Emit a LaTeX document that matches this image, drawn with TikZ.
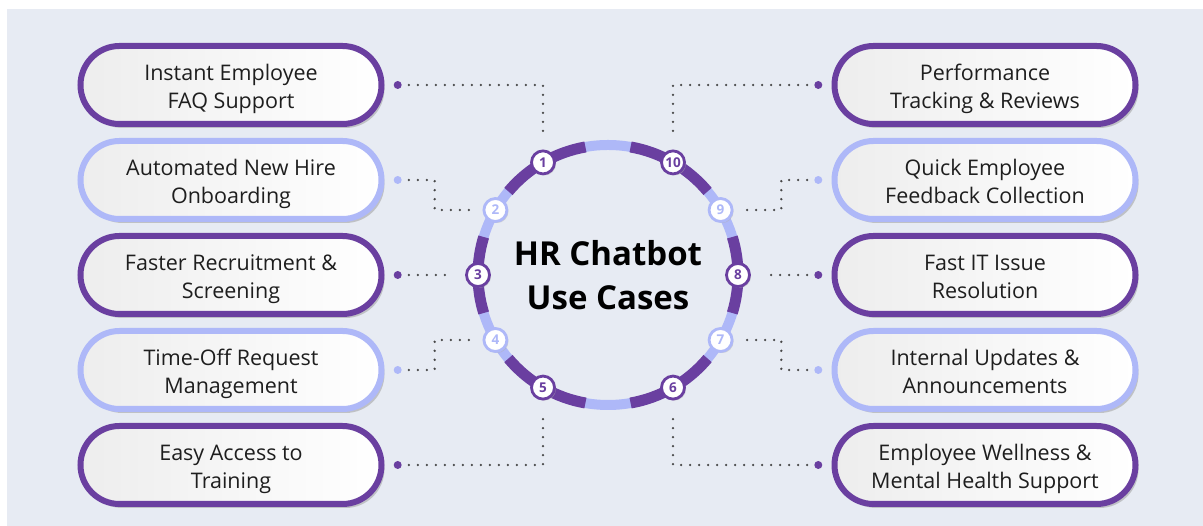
\documentclass[tikz,border=0pt]{standalone}
\usepackage{fontspec}
\setmainfont{Open Sans}
\usetikzlibrary{positioning,shadows,calc}
\definecolor{hrpurple}{HTML}{6A3FA0}
\definecolor{hrlav}{HTML}{AEB8F8}
\definecolor{hrbg}{HTML}{E7EBF3}
\definecolor{hrtext}{HTML}{1E1E1E}
\definecolor{hrdot}{HTML}{454545}
\begin{document}
\begin{tikzpicture}[x=1pt, y=1pt,
    pill/.style={draw=#1, line width=6pt, rounded corners=39pt,
      minimum width=301pt, minimum height=78pt, left color=gray!14, right color=white,
      text=hrtext, align=center, font=\fontsize{21.5}{28}\selectfont,
      text height=54pt, text depth=6pt, inner ysep=0pt,
      drop shadow={shadow xshift=3pt, shadow yshift=-4pt, fill=black!40, opacity=.5}},
    badge/.style={circle, draw=#1, line width=2.8pt, fill=white, minimum size=23pt,
      inner sep=0pt, text=#1, font=\bfseries\fontsize{13.5}{13.5}\selectfont,
      drop shadow={shadow xshift=1.5pt, shadow yshift=-1.5pt, fill=black!30, opacity=.5}},
    tip/.style={circle, fill=#1, minimum size=8pt, inner sep=0pt},
    link/.style={hrdot, line width=2.6pt, line cap=round, dash pattern=on 0pt off 9pt}]
  \useasboundingbox (0,0) rectangle (1203,526);
  \fill[hrbg] (7,0) rectangle (1203,517);

  % ring
  \coordinate (c) at (608,251);
  \draw[hrlav, line width=10pt] (c) circle (130);
  \foreach \a/\b in {100/140, 163/197, 220/260, 280/320, 343/377, 40/80}
    \draw[hrpurple, line width=11pt] ([shift=(\a:130)]c) arc (\a:\b:130);
  \node[font=\bfseries\fontsize{33}{44}\selectfont, align=center] (title) at (c) {HR Chatbot\\Use Cases};

  % badges
  \foreach \n/\a/\col in {1/120/hrpurple, 2/150/hrlav, 3/180/hrpurple, 4/210/hrlav, 5/240/hrpurple,
                         6/300/hrpurple, 7/330/hrlav, 8/0/hrpurple, 9/30/hrlav, 10/60/hrpurple}
    \node[badge=\col] (b\n) at ([shift=(\a:130)]c) {\n};

  % left column
  \node[pill=hrpurple] (p1) at (231,441) {Instant Employee\\FAQ Support};
  \node[pill=hrlav, below=11pt of p1] (p2) {Automated New Hire\\Onboarding};
  \node[pill=hrpurple, below=11pt of p2] (p3) {Faster Recruitment \&\\Screening};
  \node[pill=hrlav, below=11pt of p3] (p4) {Time-Off Request\\Management};
  \node[pill=hrpurple, below=11pt of p4] (p5) {Easy Access to\\Training};

  % right column
  \node[pill=hrpurple] (q1) at (985,441) {Performance\\Tracking \& Reviews};
  \node[pill=hrlav, below=11pt of q1] (q2) {Quick Employee\\Feedback Collection};
  \node[pill=hrpurple, below=11pt of q2] (q3) {Fast IT Issue\\Resolution};
  \node[pill=hrlav, below=11pt of q3] (q4) {Internal Updates \&\\Announcements};
  \node[pill=hrpurple, below=11pt of q4] (q5) {Employee Wellness \&\\Mental Health Support};

  % end dots
  \node[tip=hrpurple, right=9pt of p1] (t1) {};
  \node[tip=hrlav, right=9pt of p2] (t2) {};
  \node[tip=hrpurple, right=9pt of p3] (t3) {};
  \node[tip=hrlav, right=9pt of p4] (t4) {};
  \node[tip=hrpurple, right=9pt of p5] (t5) {};
  \node[tip=hrpurple, left=9pt of q1] (s1) {};
  \node[tip=hrlav, left=9pt of q2] (s2) {};
  \node[tip=hrpurple, left=9pt of q3] (s3) {};
  \node[tip=hrlav, left=9pt of q4] (s4) {};
  \node[tip=hrpurple, left=9pt of q5] (s5) {};

  % dotted links
  \draw[link, shorten <=7pt, shorten >=13pt] (t1) -| (b1);
  \draw[link, shorten <=7pt, shorten >=6pt] (t2) -- ++(37,0) |- (b2);
  \draw[link, shorten <=7pt, shorten >=12pt] (t3) -- (b3);
  \draw[link, shorten <=7pt, shorten >=6pt] (t4) -- ++(37,0) |- (b4);
  \draw[link, shorten <=7pt, shorten >=13pt] (t5) -| (b5);
  \draw[link, shorten <=7pt, shorten >=13pt] (s1) -| (b10);
  \draw[link, shorten <=7pt, shorten >=6pt] (s2) -- ++(-37,0) |- (b9);
  \draw[link, shorten <=7pt, shorten >=12pt] (s3) -- (b8);
  \draw[link, shorten <=7pt, shorten >=6pt] (s4) -- ++(-37,0) |- (b7);
  \draw[link, shorten <=7pt, shorten >=13pt] (s5) -| (b6);
\end{tikzpicture}
\end{document}
